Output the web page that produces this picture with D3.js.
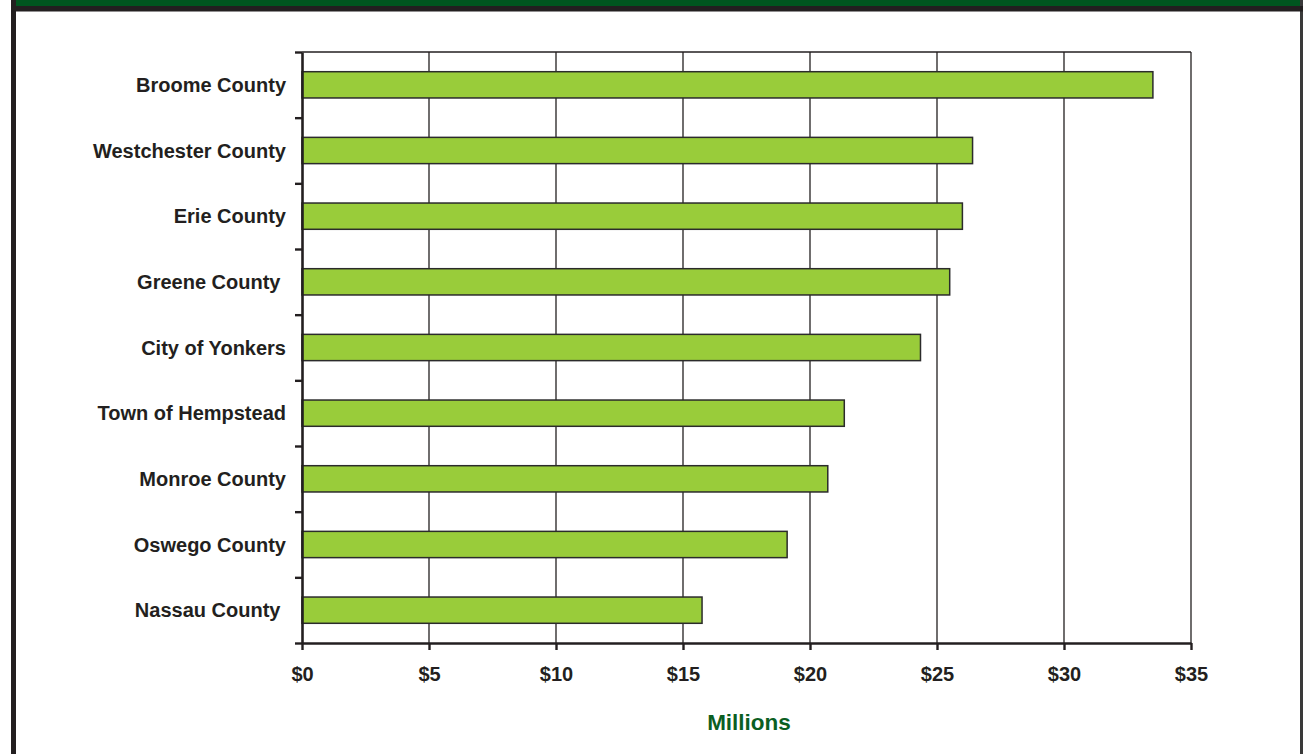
<!DOCTYPE html>
<html>
<head>
<meta charset="utf-8">
<script src="https://cdn.jsdelivr.net/npm/d3@7"></script>
<style>
  html, body { margin: 0; padding: 0; background: #fff; }
  svg { display: block; }
  text { font-family: "Liberation Sans", Arial, Helvetica, sans-serif; font-weight: bold; }
</style>
</head>
<body>
<svg id="chart" width="1304" height="754"></svg>
<script>
const categories = ["Broome County", "Westchester County", "Erie County", "Greene County ",
  "City of Yonkers", "Town of Hempstead", "Monroe County", "Oswego County", "Nassau County "];
const values = [33.5, 26.4, 26.0, 25.5, 24.35, 21.35, 20.7, 19.1, 15.75];
const xTicks = [0, 5, 10, 15, 20, 25, 30, 35];
const xTickLabels = ["$0", "$5", "$10", "$15", "$20", "$25", "$30", "$35"];
const xAxisTitle = "Millions";

(function () {
const svg = d3.select("#chart");
const W = 1304, H = 754;

// frame
svg.append("rect").attr("x", 11).attr("y", 0).attr("width", 5).attr("height", H).attr("fill", "#231f20");
svg.append("rect").attr("x", 1300).attr("y", 0).attr("width", 3).attr("height", H).attr("fill", "#3a3a3a");
svg.append("rect").attr("x", 11).attr("y", 6).attr("width", 1292).attr("height", 5.5).attr("fill", "#231f20");
svg.append("rect").attr("x", 16).attr("y", 0).attr("width", 1284).attr("height", 6).attr("fill", "#00561f");

const pL = 302, pR = 1191, pT = 52, pB = 643;

const x = d3.scaleLinear().domain([0, 35]).range([pL, pR]);
const y = d3.scaleBand().domain(categories).range([pT, pB]).paddingInner(0.6).paddingOuter(0.3);

// vertical gridlines
svg.append("g").selectAll("line").data(xTicks.slice(1)).join("line")
  .attr("x1", d => x(d)).attr("x2", d => x(d))
  .attr("y1", pT).attr("y2", pB)
  .attr("stroke", "#231f20").attr("stroke-width", 1.3);

// top border
svg.append("line").attr("x1", pL).attr("x2", pR).attr("y1", pT).attr("y2", pT)
  .attr("stroke", "#231f20").attr("stroke-width", 1.3);

// bars
svg.append("g").selectAll("rect").data(values).join("rect")
  .attr("x", x(0))
  .attr("y", (d, i) => y(categories[i]))
  .attr("width", d => x(d) - x(0))
  .attr("height", y.bandwidth())
  .attr("fill", "#99cc3a")
  .attr("stroke", "#2b2b2b").attr("stroke-width", 1.5);

// y-axis with ticks at band boundaries
const yEdge = d3.scaleLinear().domain([0, categories.length]).range([pT, pB]);
const yAxisG = svg.append("g").attr("transform", `translate(${pL},0)`)
  .call(d3.axisLeft(yEdge).tickValues(d3.range(categories.length + 1)).tickSize(7).tickSizeOuter(0).tickFormat(""));
yAxisG.select(".domain").attr("stroke", "#231f20").attr("stroke-width", 2.6);
yAxisG.selectAll(".tick line").attr("stroke", "#231f20").attr("stroke-width", 2.4);

// category labels
svg.append("g").selectAll("text").data(categories).join("text")
  .attr("x", 286)
  .attr("y", d => y(d) + y.bandwidth() / 2)
  .attr("dy", "0.36em")
  .attr("text-anchor", "end")
  .style("white-space", "pre")
  .attr("font-size", 20)
  .attr("fill", "#231f20")
  .text(d => d);

// x-axis
const xAxisG = svg.append("g").attr("transform", `translate(0,${pB})`)
  .call(d3.axisBottom(x).tickValues(xTicks).tickSize(7).tickSizeOuter(0).tickPadding(17)
    .tickFormat((d, i) => xTickLabels[i]));
xAxisG.select(".domain").attr("stroke", "#231f20").attr("stroke-width", 2.6);
xAxisG.selectAll(".tick line").attr("stroke", "#231f20").attr("stroke-width", 2.4);
xAxisG.selectAll(".tick text").attr("font-size", 20).attr("fill", "#231f20")
  .attr("font-family", "'Liberation Sans', Arial, sans-serif").attr("font-weight", "bold");

// x-axis title
svg.append("text").attr("x", 749).attr("y", 730)
  .attr("text-anchor", "middle").attr("font-size", 22.5).attr("fill", "#0b5e22")
  .text(xAxisTitle);
})();
</script>
</body>
</html>
